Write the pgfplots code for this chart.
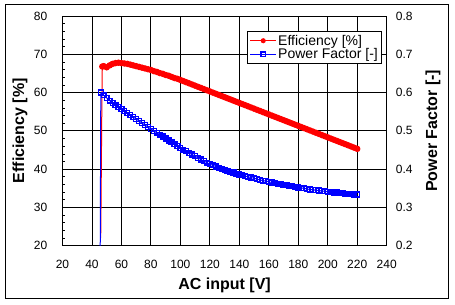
\documentclass[border=0pt]{standalone}
\usepackage{fontspec}
\setmainfont{Liberation Sans}
\usepackage{pgfplots}
\pgfplotsset{compat=1.18}

\pgfplotsset{
  base/.style={
    at={(62.5bp,58.3bp)}, anchor=south west,
    scale only axis, width=324.2bp, height=229.7bp,
    xmin=20, xmax=240,
    axis line style={line width=1bp},
    major tick length=0pt,
    /pgf/number format/assume math mode=true,
    tick label style={font=\fontsize{12bp}{14bp}\selectfont, inner sep=0pt},
  },
}

\begin{document}
\begin{tikzpicture}[x=1bp,y=1bp]
\useasboundingbox (0,0) rectangle (455,304);
\draw[line width=1bp] (5,6) rectangle (448,299);

% Efficiency, left axis
\begin{axis}[base,
  ymin=20, ymax=80,
  xtick={20,40,...,240}, ytick={20,30,...,80},
  grid=major, major grid style={black, line width=0.9bp},
  xtick pos=bottom, ytick pos=left,
  minor y tick num=4, minor tick length=2.5bp,
  minor tick style={black, line width=0.6bp},
  xticklabel style={anchor=base, yshift=-22.9bp},
  yticklabel style={anchor=east, xshift=-15bp},
  xlabel={\bfseries AC input [V]},
  xlabel style={at={(axis description cs:0.5,-0.1898)}, anchor=base,
    font=\fontsize{16bp}{18bp}\selectfont},
  ylabel={\bfseries Efficiency [\%]},
  ylabel style={at={(axis description cs:-0.1311,0.5)}, anchor=center,
    font=\fontsize{16bp}{18bp}\selectfont},
]
% start-up transient
\addplot[red, line width=1bp] coordinates {
(45.8,22.0) (46.0,23.7) (46.6,52.5) (47,66.8)
};
\addplot[red, line width=1bp, mark=*, mark size=2.7bp,
  mark options={fill=red, draw=red}] coordinates {
(47,66.8)
(48,66.9) (50,66.6) (52,67.1) (54,67.5) (56,67.7) (58,67.8) (60,67.7)
(62,67.6) (64,67.5) (66,67.3) (68,67.1) (70,66.9) (72,66.7) (74,66.5)
(76,66.3) (78,66.1) (80,65.9) (82,65.6) (84,65.4) (86,65.1) (88,64.9)
(90,64.6) (92,64.4) (94,64.1) (96,63.8) (98,63.6) (100,63.3) (102,63.0)
(104,62.7) (106,62.4) (108,62.1) (110,61.8) (112,61.5) (114,61.2)
(116,60.9) (118,60.6) (120,60.3) (122,60.0) (124,59.7) (126,59.4)
(128,59.1) (130,58.8) (132,58.5) (134,58.2) (136,57.9) (138,57.6)
(140,57.3) (142,57.0) (144,56.7) (146,56.4) (148,56.1) (150,55.8)
(152,55.5) (154,55.2) (156,54.9) (158,54.6) (160,54.3) (162,54.0)
(164,53.7) (166,53.4) (168,53.1) (170,52.8) (172,52.5) (174,52.2)
(176,51.9) (178,51.6) (180,51.3) (182,51.0) (184,50.7) (186,50.4)
(188,50.1) (190,49.8) (192,49.5) (194,49.2) (196,48.9) (198,48.6)
(200,48.3) (202,48.0) (204,47.7) (206,47.4) (208,47.1) (210,46.8)
(212,46.5) (214,46.2) (216,45.9) (218,45.6) (220,45.3)
};
\end{axis}

% Power factor, right axis
\begin{axis}[base,
  ymin=0.2, ymax=0.8, ytick={0.2,0.3,...,0.8},
  axis x line=none, axis y line*=right,
  yticklabel style={anchor=west, xshift=9bp,
    /pgf/number format/.cd, fixed, fixed zerofill, precision=1},
  ylabel={\bfseries Power Factor [-]},
  ylabel style={at={(axis description cs:1.1428,0.5)}, anchor=center, rotate=0,
    font=\fontsize{16bp}{18bp}\selectfont},
  legend cell align=left,
  legend style={at={(axis description cs:0.9846,0.9347)}, anchor=north east,
    draw=black, line width=0.8bp, fill=white, inner sep=2bp,
    font=\fontsize{14bp}{15bp}\selectfont, row sep=-1bp,
    nodes={inner sep=1.5bp}},
  legend image code/.code={
    \draw[mark repeat=2, mark phase=2, #1]
      plot coordinates {(0bp,0bp) (13bp,0bp) (26bp,0bp)};},
]
\addlegendimage{red, line width=1bp, mark=*, mark size=2bp,
  mark options={fill=red, draw=red}}
\addlegendentry{Efficiency [\%]}
\addplot[blue, line width=1bp, mark=square, mark size=2.4bp,
  mark options={fill=white, draw=blue, line width=1.4bp}] coordinates {
(46,0.600) (48,0.593) (50,0.586) (52,0.579) (54,0.573)
(56,0.567) (58,0.562) (60,0.557) (62,0.552) (64,0.547) (66,0.541)
(68,0.536) (70,0.531) (72,0.526) (74,0.520) (76,0.515) (78,0.510)
(80,0.505) (82,0.500) (84,0.495) (86,0.490) (88,0.485) (90,0.480)
(92,0.475) (94,0.470) (96,0.465) (98,0.460) (100,0.455) (102,0.451)
(104,0.447) (106,0.442) (108,0.438) (110,0.434) (112,0.429) (114,0.425)
(116,0.421) (118,0.417) (120,0.413) (122,0.410) (124,0.407) (126,0.404)
(128,0.401) (130,0.398) (132,0.396) (134,0.393) (136,0.391) (138,0.388)
(140,0.386) (142,0.384) (144,0.382) (146,0.380) (148,0.378) (150,0.376)
(152,0.374) (154,0.372) (156,0.370) (158,0.369) (160,0.367) (162,0.365)
(164,0.364) (166,0.362) (168,0.361) (170,0.359) (172,0.358) (174,0.356)
(176,0.355) (178,0.353) (180,0.352) (182,0.351) (184,0.350) (186,0.348)
(188,0.347) (190,0.346) (192,0.345) (194,0.344) (196,0.343) (198,0.342)
(200,0.341) (202,0.340) (204,0.339) (206,0.339) (208,0.338) (210,0.337)
(212,0.336) (214,0.336) (216,0.335) (218,0.334) (220,0.334)
};
\addlegendentry{Power Factor [-]}
% start-up transient
\addplot[blue, line width=1bp, forget plot] coordinates {
(45.6,0.195) (46,0.600)
};
\end{axis}
\end{tikzpicture}
\end{document}
